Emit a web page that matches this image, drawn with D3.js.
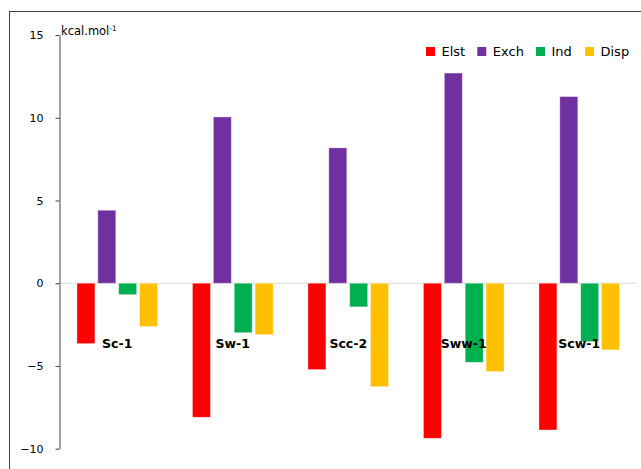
<!DOCTYPE html>
<html>
<head>
<meta charset="utf-8">
<script src="https://cdn.jsdelivr.net/npm/d3@7"></script>
<style>
  html, body { margin: 0; padding: 0; background: #fff; }
  svg { display: block; font-family: "DejaVu Sans", Verdana, sans-serif; }
</style>
</head>
<body>
<svg id="chart" width="641" height="469"></svg>
<script>
// Interaction energy components per complex (kcal/mol)
const categories = ["Sc-1", "Sw-1", "Scc-2", "Sww-1", "Scw-1"];
const seriesNames = ["Elst", "Exch", "Ind", "Disp"];
const elst = [-3.65, -8.10, -5.22, -9.37, -8.87];
const exch = [4.41, 10.05, 8.18, 12.70, 11.28];
const ind  = [-0.69, -2.99, -1.43, -4.78, -3.53];
const disp = [-2.62, -3.11, -6.25, -5.34, -4.03];
const yTicks = [-10, -5, 0, 5, 10, 15];
const colors = ["#FF0000", "#7030A0", "#00B050", "#FFC000"];

const seriesValues = [elst, exch, ind, disp];

const svg = d3.select("#chart");
const W = 641, H = 469;

// outer chart frame
svg.append("rect")
  .attr("x", 9.5).attr("y", 11.5)
  .attr("width", W + 10).attr("height", H + 10)
  .attr("fill", "#fff").attr("stroke", "#404040").attr("stroke-width", 1);

const plot = { left: 59.5, right: 637, top: 35, bottom: 448.7 };

const y = d3.scaleLinear().domain([-10, 15]).range([plot.bottom, plot.top]);
const x0 = d3.scaleBand().domain(categories).range([plot.left, plot.right]);
const x1 = d3.scaleBand().domain(seriesNames).range([0, x0.bandwidth()])
  .paddingInner(0.139).paddingOuter(0.835);

// zero line
svg.append("line")
  .attr("x1", plot.left).attr("x2", plot.right - 1)
  .attr("y1", y(0)).attr("y2", y(0))
  .attr("stroke", "#d9d9d9").attr("stroke-width", 1);

// bars
const groups = svg.append("g").selectAll("g")
  .data(categories)
  .join("g")
  .attr("transform", d => `translate(${x0(d)},0)`);

groups.selectAll("rect")
  .data((c, ci) => seriesNames.map((s, si) => ({ s, si, v: seriesValues[si][ci] })))
  .join("rect")
  .attr("x", d => x1(d.s))
  .attr("width", x1.bandwidth())
  .attr("y", d => y(Math.max(0, d.v)))
  .attr("height", d => Math.abs(y(d.v) - y(0)))
  .attr("fill", d => colors[d.si])
  .attr("stroke", "rgba(255,255,255,0.45)")
  .attr("stroke-width", 0.8);

// category labels
svg.append("g").selectAll("text")
  .data(categories)
  .join("text")
  .attr("x", d => x0(d) + x0.bandwidth() / 2)
  .attr("y", y(0) + 65)
  .attr("text-anchor", "middle")
  .attr("font-size", 12.5)
  .attr("font-weight", "bold")
  .attr("fill", "#000")
  .text(d => d);

// y axis
const yAxis = d3.axisLeft(y).tickValues(yTicks).tickSize(4).tickPadding(12).tickSizeOuter(0);
const ax = svg.append("g")
  .attr("transform", `translate(${plot.left},0)`)
  .call(yAxis);
ax.select(".domain").attr("stroke", "#404040");
ax.selectAll(".tick line").attr("stroke", "#404040");
ax.selectAll(".tick text")
  .attr("font-family", "DejaVu Sans, sans-serif")
  .attr("font-size", 11)
  .attr("fill", "#000");

// unit label
const unit = svg.append("text")
  .attr("x", 61).attr("y", 35)
  .attr("font-size", 11.5)
  .attr("fill", "#000");
unit.append("tspan").text("kcal.mol");
unit.append("tspan").attr("font-size", 7.5).attr("dy", -4.5).text("-1");

// legend
const legendX = [426, 477.3, 536, 585];
const legend = svg.append("g").selectAll("g")
  .data(seriesNames)
  .join("g")
  .attr("transform", (d, i) => `translate(${legendX[i]},47)`);
legend.append("rect")
  .attr("width", 9).attr("height", 9)
  .attr("fill", (d, i) => colors[i]);
legend.append("text")
  .attr("x", 15.5).attr("y", 9)
  .attr("font-size", 13)
  .attr("fill", "#000")
  .text(d => d);
</script>
</body>
</html>
